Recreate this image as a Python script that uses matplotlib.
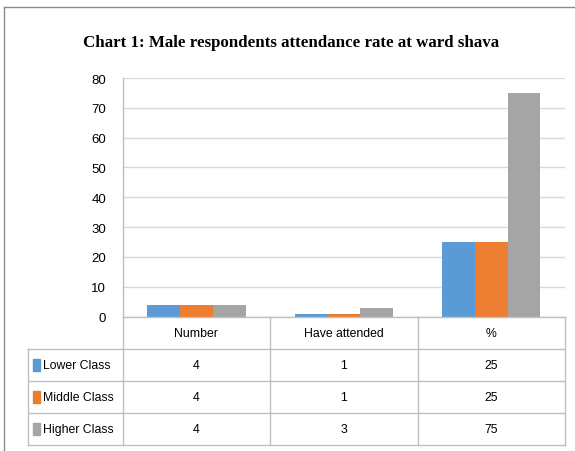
import matplotlib
matplotlib.use("Agg")
import matplotlib.pyplot as plt
from matplotlib.lines import Line2D
from matplotlib.patches import Rectangle
from matplotlib import font_manager
import numpy as np

categories = ["Number", "Have attended", "%"]
series_names = ["Lower Class", "Middle Class", "Higher Class"]
lower = [4, 1, 25]
middle = [4, 1, 25]
higher = [4, 3, 75]
colors = ["#5B9BD5", "#ED7D31", "#A5A5A5"]
yticks = [0, 10, 20, 30, 40, 50, 60, 70, 80]
title = "Chart 1: Male respondents attendance rate at ward shava"

# choose a narrow sans if available
try:
    font_manager.findfont(font_manager.FontProperties(family="Liberation Sans Narrow"),
                          fallback_to_default=False)
    SANS, tfs, kfs = "Liberation Sans Narrow", 10.7, 11.3
except Exception:
    SANS, tfs, kfs = "Liberation Sans", 8.8, 9.5

W, H = 575, 452
fig = plt.figure(figsize=(W / 100, H / 100), dpi=100)
fig.patch.set_facecolor("white")

def fx(x):
    return x / W

def fy(y):
    return 1 - y / H

# plot area
L, R, T, B = 122.7, 565, 79, 317.5
ax = fig.add_axes([fx(L), fy(B), fx(R) - fx(L), fy(T) - fy(B)])
series = [lower, middle, higher]
n = len(series)
bw = 1 / (n + 1.5)
x = np.arange(len(categories))
for i, (vals, c) in enumerate(zip(series, colors)):
    ax.bar(x + (i - (n - 1) / 2) * bw, vals, width=bw, color=c, zorder=3)
ax.set_xlim(-0.5, len(categories) - 0.5)
ax.set_ylim(0, 80)
ax.set_yticks(yticks)
ax.set_yticklabels([str(v) for v in yticks], fontsize=kfs, family=SANS)
ax.tick_params(axis="y", length=0, pad=12)
ax.set_xticks([])
for s in ax.spines.values():
    s.set_visible(False)
ax.grid(axis="y", color="#D9D9D9", linewidth=1, zorder=0)
ax.set_axisbelow(True)

# title
fig.text(fx(291.5), fy(47), title, ha="center", va="baseline", fontsize=12.2,
         fontweight="bold", family="Liberation Serif")

# outer border
lc_border = "#8C8C8C"
fig.add_artist(Line2D([fx(4), fx(4)], [fy(8), fy(452)], color=lc_border, lw=1))
fig.add_artist(Line2D([fx(4), fx(575)], [fy(8), fy(8)], color=lc_border, lw=1))

# data table
tc = "#BFBFBF"
col_x = list(np.linspace(L, R, len(categories) + 1))
row_y = [317.5, 350, 382, 414, 446]
tab_left = 28
fig.add_artist(Line2D([fx(L), fx(L)], [fy(T), fy(row_y[0])], color=tc, lw=1))
fig.add_artist(Line2D([fx(L), fx(R)], [fy(row_y[0]), fy(row_y[0])], color=tc, lw=1))
for yy in row_y[1:]:
    fig.add_artist(Line2D([fx(tab_left), fx(R)], [fy(yy), fy(yy)], color=tc, lw=1))
for xx in col_x:
    fig.add_artist(Line2D([fx(xx), fx(xx)], [fy(row_y[0]), fy(row_y[-1])], color=tc, lw=1))
fig.add_artist(Line2D([fx(tab_left), fx(tab_left)], [fy(row_y[1]), fy(row_y[-1])], color=tc, lw=1))

for j, cat in enumerate(categories):
    cx = (col_x[j] + col_x[j + 1]) / 2
    cy = (row_y[0] + row_y[1]) / 2
    fig.text(fx(cx), fy(cy), cat, ha="center", va="center", fontsize=tfs, family=SANS)
for i, (name, vals, c) in enumerate(zip(series_names, series, colors)):
    cy = (row_y[i + 1] + row_y[i + 2]) / 2
    fig.add_artist(Rectangle((fx(33), fy(cy + 6)), fx(7), fy(0) - fy(12), color=c,
                             transform=fig.transFigure))
    fig.text(fx(43), fy(cy), name, ha="left", va="center", fontsize=tfs, family=SANS)
    for j, v in enumerate(vals):
        cx = (col_x[j] + col_x[j + 1]) / 2
        fig.text(fx(cx), fy(cy), str(v), ha="center", va="center", fontsize=tfs, family=SANS)

fig.savefig("out.png", dpi=100, facecolor="white")
